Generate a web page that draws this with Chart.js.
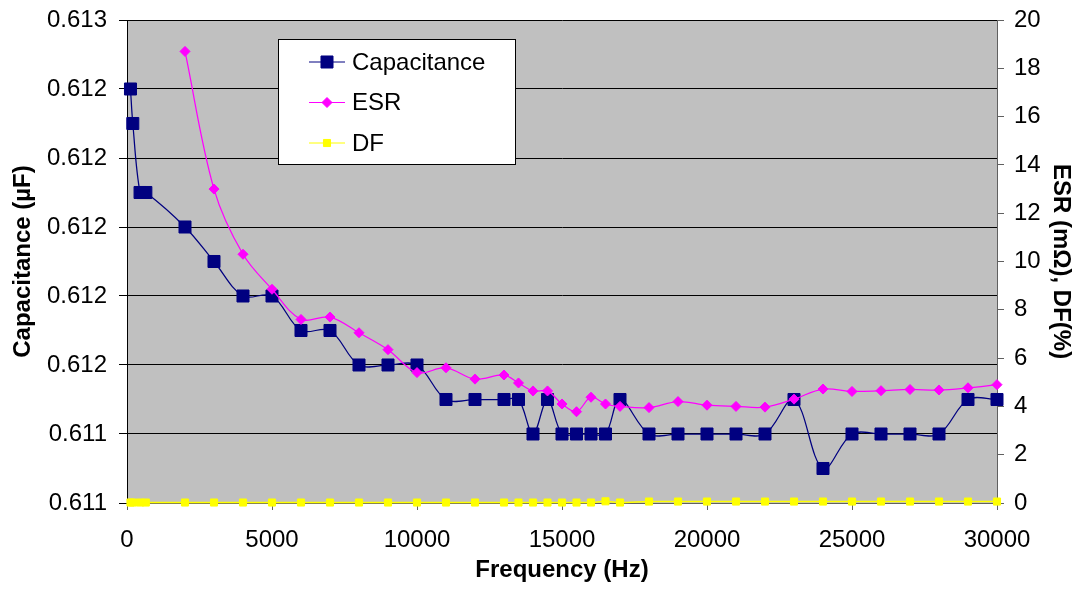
<!DOCTYPE html>
<html>
<head>
<meta charset="utf-8">
<script src="https://cdn.jsdelivr.net/npm/chart.js@4.4.1/dist/chart.umd.min.js"></script>
<style>
  html, body { margin: 0; padding: 0; background: #ffffff; }
  #wrap { width: 1078px; height: 597px; position: relative; }
</style>
</head>
<body>
<div id="wrap"><canvas id="c" width="1078" height="597"></canvas></div>
<script>
// ---- data ----
const frequencies = [120, 200, 450, 650, 2000, 3000, 4000, 5000, 6000, 7000, 8000, 9000, 10000,
  11000, 12000, 13000, 13500, 14000, 14500, 15000, 15500, 16000, 16500, 17000,
  18000, 19000, 20000, 21000, 22000, 23000, 24000, 25000, 26000, 27000, 28000, 29000, 30000];
const capacitance = [0.6124, 0.6123, 0.6121, 0.6121, 0.6120, 0.6119, 0.6118, 0.6118, 0.6117, 0.6117, 0.6116, 0.6116, 0.6116,
  0.6115, 0.6115, 0.6115, 0.6115, 0.6114, 0.6115, 0.6114, 0.6114, 0.6114, 0.6114, 0.6115,
  0.6114, 0.6114, 0.6114, 0.6114, 0.6114, 0.6115, 0.6113, 0.6114, 0.6114, 0.6114, 0.6114, 0.6115, 0.6115];
const esr = [null, null, null, null, 18.7, 13.0, 10.3, 8.85, 7.6, 7.7, 7.05, 6.35, 5.4,
  5.6, 5.13, 5.3, 4.97, 4.64, 4.64, 4.1, 3.78, 4.38, 4.1, 4.0,
  3.95, 4.2, 4.05, 4.0, 3.97, 4.3, 4.72, 4.62, 4.65, 4.7, 4.68, 4.77, 4.9];
const df = [0.02, 0.02, 0.02, 0.02, 0.02, 0.02, 0.02, 0.02, 0.02, 0.02, 0.02, 0.02, 0.02,
  0.02, 0.02, 0.02, 0.02, 0.02, 0.02, 0.02, 0.02, 0.02, 0.07, 0.02,
  0.06, 0.06, 0.06, 0.06, 0.06, 0.06, 0.06, 0.06, 0.06, 0.06, 0.06, 0.06, 0.06];
const capTicks = [0.6112, 0.6114, 0.6116, 0.6118, 0.6120, 0.6122, 0.6124, 0.6126];
const rightTicks = [0, 2, 4, 6, 8, 10, 12, 14, 16, 18, 20];
const freqTicks = [0, 5000, 10000, 15000, 20000, 25000, 30000];
const seriesNames = ['Capacitance', 'ESR', 'DF'];
const xTitle = 'Frequency (Hz)';
const yTitle = 'Capacitance (µF)';
const y1Title = 'ESR (mΩ), DF(%)';

const pts = (ys) => frequencies.map((f, i) => ({ x: f, y: ys[i] }));
const FONT = 'Liberation Sans, Arial, sans-serif';

const bgPlugin = {
  id: 'plotBg',
  beforeDraw(chart) {
    const { ctx, chartArea: a } = chart;
    ctx.save();
    ctx.fillStyle = '#C0C0C0';
    ctx.fillRect(a.left, a.top, a.right - a.left, a.bottom - a.top);
    ctx.restore();
  }
};

const legendPlugin = {
  id: 'boxLegend',
  afterDraw(chart) {
    const ctx = chart.ctx;
    ctx.save();
    ctx.fillStyle = '#ffffff';
    ctx.strokeStyle = '#000000';
    ctx.lineWidth = 1;
    ctx.fillRect(278.5, 39.5, 237, 125);
    ctx.strokeRect(278.5, 39.5, 237, 125);
    chart.data.datasets.forEach((ds, i) => {
      const y = 62 + i * 40.5;
      ctx.strokeStyle = ds.borderColor;
      ctx.lineWidth = 1;
      ctx.beginPath();
      ctx.moveTo(309, y);
      ctx.lineTo(345, y);
      ctx.stroke();
      ctx.fillStyle = ds.pointBackgroundColor;
      ctx.strokeStyle = ds.pointBorderColor;
      Chart.helpers.drawPoint(ctx, { pointStyle: ds.pointStyle, radius: ds.pointRadius, borderWidth: 1, rotation: 0 }, 327, y);
      ctx.fillStyle = '#000000';
      ctx.font = '24px ' + FONT;
      ctx.textBaseline = 'middle';
      ctx.textAlign = 'left';
      ctx.fillText(ds.label, 352, y + 1);
    });
    ctx.restore();
  }
};

const noPad = (s) => { s.paddingTop = 0; s.paddingBottom = 0; s.paddingLeft = 0; s.paddingRight = 0; };

new Chart(document.getElementById('c'), {
  type: 'line',
  data: {
    datasets: [
      {
        label: seriesNames[0], data: pts(capacitance), yAxisID: 'y', order: 3,
        borderColor: '#000080', borderWidth: 1.25, tension: 0.35,
        pointStyle: 'rect', pointRadius: 8.5, pointBackgroundColor: '#000080', pointBorderColor: '#000080', pointBorderWidth: 1,
        clip: false
      },
      {
        label: seriesNames[1], data: pts(esr), yAxisID: 'y1', order: 2,
        borderColor: '#FF00FF', borderWidth: 1.25, tension: 0.35,
        pointStyle: 'rectRot', pointRadius: 5, pointBackgroundColor: '#FF00FF', pointBorderColor: '#FF00FF', pointBorderWidth: 1,
        clip: false
      },
      {
        label: seriesNames[2], data: pts(df), yAxisID: 'y1', order: 1,
        borderColor: '#FFFF00', borderWidth: 1.5, tension: 0.35,
        pointStyle: 'rect', pointRadius: 5, pointBackgroundColor: '#FFFF00', pointBorderColor: '#FFFF00', pointBorderWidth: 1,
        clip: false
      }
    ]
  },
  options: {
    responsive: false,
    animation: false,
    devicePixelRatio: 1,
    layout: { padding: { top: 20, left: 0, right: 0, bottom: 0 } },
    plugins: { legend: { display: false }, tooltip: { enabled: false } },
    scales: {
      x: {
        type: 'linear', min: 0, max: 30000,
        afterBuildTicks: (s) => { s.ticks = freqTicks.map(v => ({ value: v })); },
        afterFit: (s) => { s.height = 94; noPad(s); },
        ticks: { color: '#000', font: { family: FONT, size: 24 }, padding: 16, maxRotation: 0, autoSkip: false,
                 callback: (v) => String(v) },
        grid: { drawOnChartArea: false, drawTicks: true, tickLength: 7, color: '#606060' },
        border: { display: true, color: '#606060', width: 1 },
        title: { display: true, text: xTitle, color: '#000', font: { family: FONT, size: 24, weight: 'bold' }, padding: { top: 0, bottom: 12 } }
      },
      y: {
        type: 'linear', position: 'left', min: 0.6112, max: 0.6126,
        afterBuildTicks: (s) => { s.ticks = capTicks.map(v => ({ value: v })); },
        afterFit: (s) => { s.width = 127; noPad(s); },
        ticks: { color: '#000', font: { family: FONT, size: 24 }, padding: 12, autoSkip: false,
                 callback: (v) => Number(v).toFixed(3) },
        grid: { drawOnChartArea: true, drawTicks: true, tickLength: 8, color: '#000000', lineWidth: 1 },
        border: { display: true, color: '#000000', width: 1 },
        title: { display: true, text: yTitle, color: '#000', font: { family: FONT, size: 24, weight: 'bold' }, padding: { top: 9, bottom: 0 } }
      },
      y1: {
        type: 'linear', position: 'right', min: 0, max: 20,
        afterBuildTicks: (s) => { s.ticks = rightTicks.map(v => ({ value: v })); },
        afterFit: (s) => { s.width = 81; noPad(s); },
        ticks: { color: '#000', font: { family: FONT, size: 24 }, padding: 10, autoSkip: false },
        grid: { drawOnChartArea: false, drawTicks: true, tickLength: 7, color: '#606060' },
        border: { display: true, color: '#606060', width: 1 },
        title: { display: true, text: y1Title, color: '#000', font: { family: FONT, size: 24, weight: 'bold' }, padding: { top: 3, bottom: 0 } }
      }
    }
  },
  plugins: [bgPlugin, legendPlugin]
});
</script>
</body>
</html>
